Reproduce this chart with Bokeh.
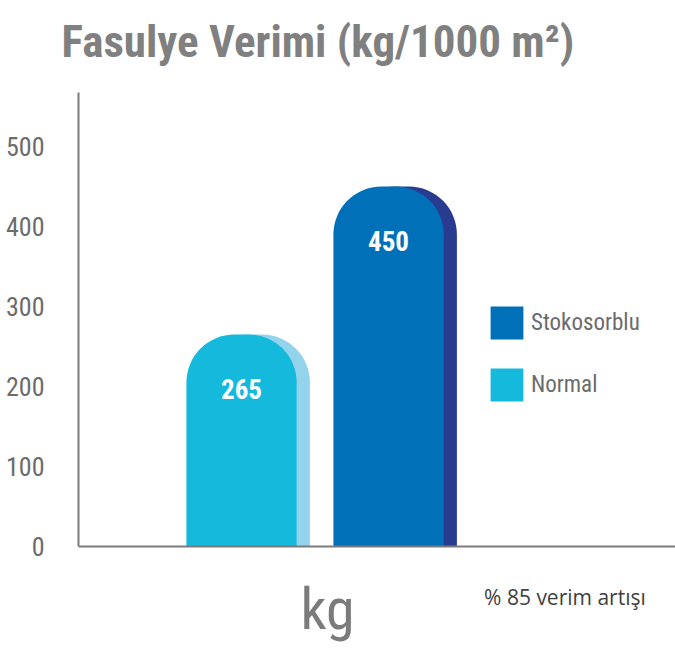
from bokeh.plotting import figure
from bokeh.models import Range1d, FixedTicker, ColumnDataSource, Legend, LegendItem, Label, Span
from bokeh.core.properties import value
from bokeh.embed import file_html
from bokeh.resources import INLINE

# ---- data ----
categories = ["Normal", "Stokosorblu"]
yields = [265, 450]
y_ticks = [0, 100, 200, 300, 400, 500]
title_text = "Fasulye Verimi (kg/1000 m²)"
unit_text = "kg"
note_text = "% 85 verim artışı"

# ---- styles ----
main_colors = ["#14b9dc", "#0071b9"]
side_colors = ["#93d3ec", "#283b8f"]
gray = "#7b7b7b"
cond = "Roboto Condensed"

xs = [i + 1 for i in range(len(categories))]
bar_w = 0.75
side_shift = 0.09
radius = (48, 48, 0, 0)
axis_top = 567.5

p = figure(width=675, height=657,
           x_range=Range1d(-0.109, 3.952), y_range=Range1d(-138.75, 592.5),
           output_backend="svg", toolbar_location=None,
           min_border_left=78, min_border_right=0, min_border_top=72, min_border_bottom=0)
p.outline_line_color = None
p.xgrid.visible = False
p.ygrid.visible = False

# title
p.title.text = title_text
p.title.text_font = cond
p.title.text_font_style = "bold"
p.title.text_font_size = "45px"
p.title.text_color = "#808080"
p.title.align = "left"
p.title.offset = -17
p.title.standoff = 10

# y axis
p.yaxis.ticker = FixedTicker(ticks=y_ticks)
p.yaxis.bounds = (0, axis_top)
p.yaxis.major_tick_line_color = None
p.yaxis.minor_tick_line_color = None
p.yaxis.axis_line_color = gray
p.yaxis.axis_line_width = 2
p.yaxis.major_label_standoff = 28
p.yaxis.major_label_text_font = cond
p.yaxis.major_label_text_font_size = "26px"
p.yaxis.major_label_text_color = "#6b6b6b"
p.xaxis.visible = False

# baseline
p.add_layout(Span(location=0, dimension="width", line_color=gray, line_width=2))

renderers = []
for i, cat in enumerate(categories):
    src = ColumnDataSource(dict(x=[xs[i]], xs=[xs[i] + side_shift], top=[yields[i]],
                                lbl=[str(yields[i])]))
    p.vbar(x="xs", top="top", bottom=0, width=bar_w, source=src,
           fill_color=side_colors[i], line_color=None, border_radius=radius)
    r = p.vbar(x="x", top="top", bottom=0, width=bar_w, source=src,
               fill_color=main_colors[i], line_color=None, border_radius=radius)
    p.text(x="x", y="top", text="lbl", source=src, text_align="center",
           text_baseline="middle", y_offset=54, text_color="white",
           text_font=value(cond), text_font_style="bold", text_font_size="27px")
    renderers.append(r)

# legend (Stokosorblu first)
items = [LegendItem(label=categories[i], renderers=[renderers[i]]) for i in [1, 0]]
legend = Legend(items=items, location=(408, 252), orientation="vertical",
                glyph_width=41, glyph_height=41, spacing=21, padding=0, margin=0,
                label_standoff=4, label_text_font=cond, label_text_font_size="23px",
                label_text_color="#6b6b6b", border_line_color=None,
                background_fill_alpha=0)
p.add_layout(legend, "center")

p.add_layout(Label(x=1.585, y=-78, text=unit_text, text_align="center",
                   text_baseline="alphabetic", text_font=cond, text_font_size="58px",
                   text_color=gray))
p.add_layout(Label(x=2.65, y=-62.5, text=note_text, text_align="left",
                   text_baseline="middle", text_font="Open Sans", text_font_size="21px",
                   text_color="#3f3f3f"))

open("out.html", "w").write(file_html(p, INLINE))
